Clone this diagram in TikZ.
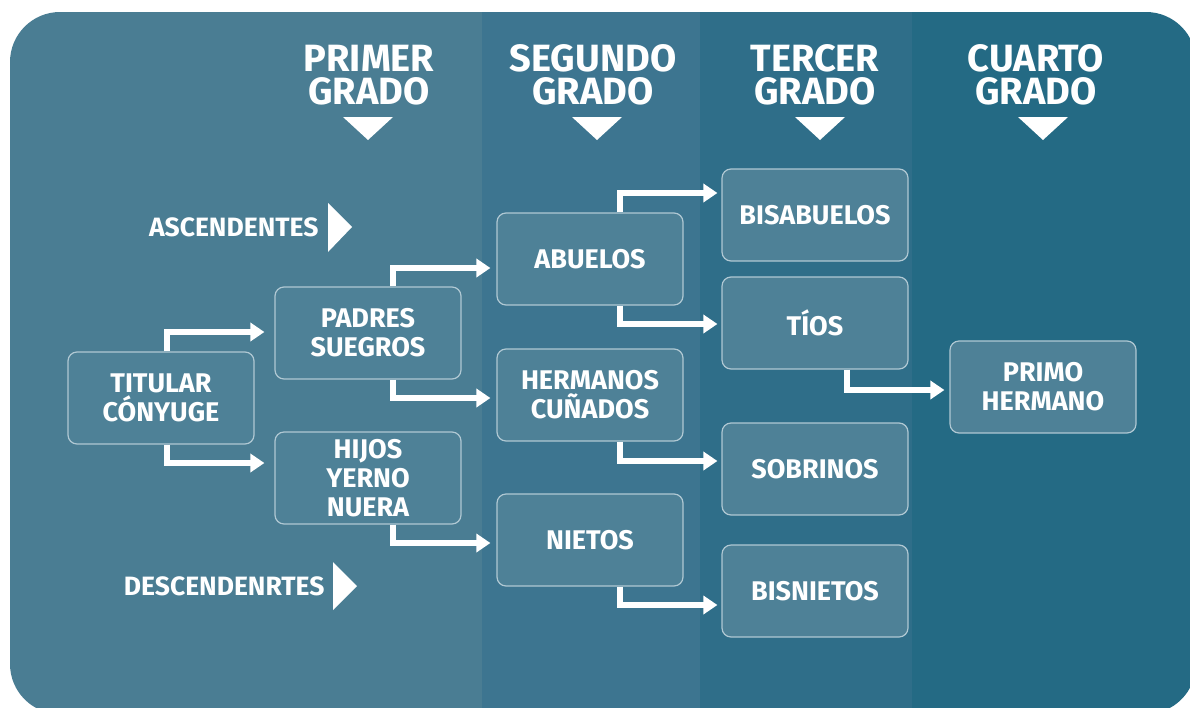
\documentclass[tikz,border=0pt]{standalone}
\usepackage{fontspec}
\setmainfont{Fira Sans}
\usepackage{tikz}
\usetikzlibrary{arrows.meta,positioning,calc}
\definecolor{colA}{HTML}{4A7D93}
\definecolor{colB}{HTML}{3D7590}
\definecolor{colC}{HTML}{2F6E89}
\definecolor{colD}{HTML}{246A84}
\definecolor{boxfill}{HTML}{4E8197}
\definecolor{boxline}{HTML}{B0C8D3}
\tikzstyle{pariente}=[rectangle,rounded corners=9pt,draw=boxline,line width=1.2pt,fill=boxfill,
minimum width=186pt,minimum height=92pt,align=center,text=white,
font=\fontsize{27}{29}\selectfont\bfseries]
\tikzstyle{grado}=[align=center,text=white,font=\fontsize{38}{33}\selectfont\bfseries]
\tikzstyle{linea}=[anchor=east,text=white,font=\fontsize{26.5}{28}\selectfont\bfseries]
\tikzstyle{flecha}=[draw=white,line width=6pt,-{Triangle[length=14pt,width=18pt]}]

\begin{document}
\begin{tikzpicture}[x=1pt,y=-1pt]
    \useasboundingbox (0,0) rectangle (1190,707);
    \fill[white] (0,0) rectangle (1190,707);
    \begin{scope}
        \clip[rounded corners=50pt] (10,12) rectangle (1196,714);
        \fill[colA] (0,0) rectangle (482,720);
        \fill[colB] (482,0) rectangle (700,720);
        \fill[colC] (700,0) rectangle (912,720);
        \fill[colD] (912,0) rectangle (1200,720);
    \end{scope}

    % grados
    \node[grado] (g1) at (369,75) {PRIMER\\GRADO};
    \node[grado] (g2) at (593,75) {SEGUNDO\\GRADO};
    \node[grado] (g3) at (815,75) {TERCER\\GRADO};
    \node[grado] (g4) at (1036,75) {CUARTO\\GRADO};
    \foreach \cx in {368,597,820,1043}
        \fill[white] (\cx-25,117) -- (\cx+25,117) -- (\cx,140) -- cycle;

    \node[linea] (asc) at (322,227) {ASCENDENTES};
    \fill[white] (328,203) -- (352,227) -- (328,252) -- cycle;
    \node[linea] (desc) at (328,586) {DESCENDENRTES};
    \fill[white] (333,562) -- (357,586) -- (333,610) -- cycle;

    % familia
    \node[pariente] (titular) at (161,398) {TITULAR\\CÓNYUGE};
    \node[pariente] (padres) at (368,333) {PADRES\\SUEGROS};
    \node[pariente] (hijos) at (368,478) {HIJOS\\YERNO\\NUERA};
    \node[pariente] (abuelos) at (590,259) {ABUELOS};
    \node[pariente] (hermanos) at (590,395) {HERMANOS\\CUÑADOS};
    \node[pariente] (nietos) at (590,540) {NIETOS};
    \node[pariente] (bisabuelos) at (815,215) {BISABUELOS};
    \node[pariente] (tios) at (815,323) {TÍOS};
    \node[pariente] (sobrinos) at (815,469) {SOBRINOS};
    \node[pariente] (bisnietos) at (815,591) {BISNIETOS};
    \node[pariente] (primo) at (1043,387) {PRIMO\\HERMANO};

    \draw[flecha] ([xshift=6pt]titular.north) |- ([xshift=-10pt,yshift=1pt]padres.west);
    \draw[flecha] ([xshift=6pt]titular.south) |- ([xshift=-10pt,yshift=15pt]hijos.west);
    \draw[flecha] ([xshift=25pt]padres.north) |- ([xshift=-6pt,yshift=-9pt]abuelos.west);
    \draw[flecha] ([xshift=25pt]padres.south) |- ([xshift=-6pt,yshift=-3pt]hermanos.west);
    \draw[flecha] ([xshift=25pt]hijos.south) |- ([xshift=-6pt,yshift=-3pt]nietos.west);
    \draw[flecha] ([xshift=30pt]abuelos.north) |- ([xshift=-4pt,yshift=22pt]bisabuelos.west);
    \draw[flecha] ([xshift=30pt]abuelos.south) |- ([xshift=-4pt,yshift=-1pt]tios.west);
    \draw[flecha] ([xshift=30pt]hermanos.south) |- ([xshift=-4pt,yshift=8pt]sobrinos.west);
    \draw[flecha] ([xshift=30pt]nietos.south) |- ([xshift=-4pt,yshift=-14pt]bisnietos.west);
    \draw[flecha] ([xshift=32pt]tios.south) |- ([xshift=-5pt,yshift=-3pt]primo.west);
\end{tikzpicture}
\end{document}
